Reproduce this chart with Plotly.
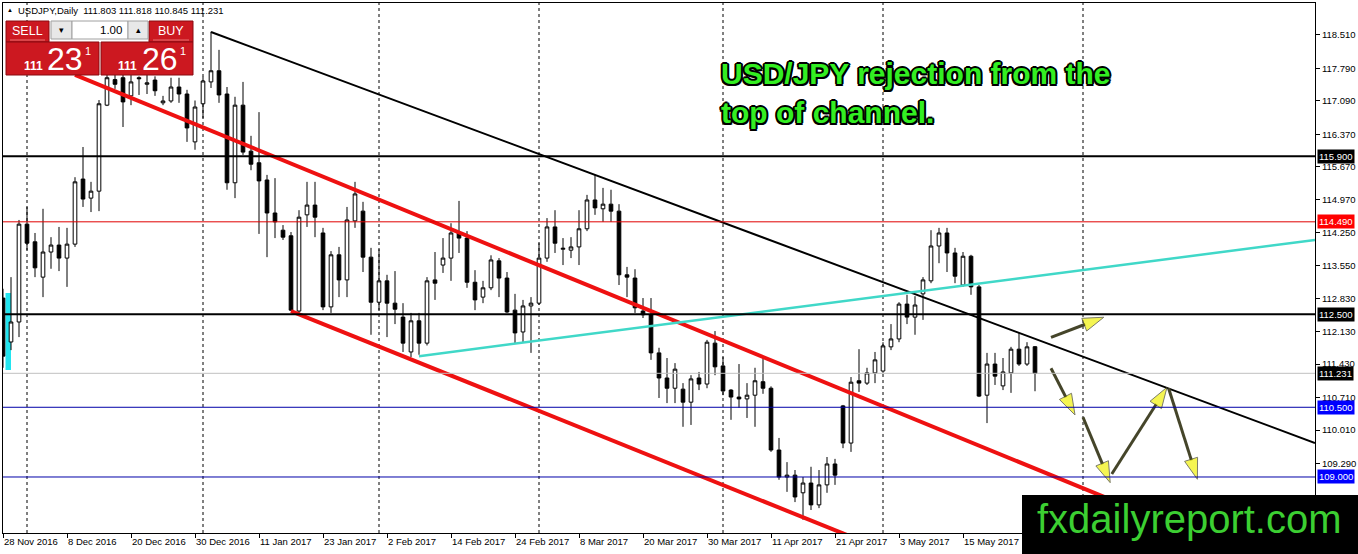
import plotly.graph_objects as go

# ---------------- data ----------------
bar_index = list(range(130))  # daily bars from 28 Nov 2016 to 26 May 2017

opens = [112.85, 111.905, 112.335, 114.44, 114.06, 113.30, 113.84, 113.99, 113.71, 114.01,
         115.41, 115.00, 115.15, 117.00, 117.55, 117.59, 117.20, 117.59, 117.45, 117.54,
         117.05, 117.09, 117.39, 117.24, 116.21, 117.03, 117.50, 117.74, 117.24, 115.33,
         117.00, 116.01, 115.76, 115.39, 114.68, 114.31, 114.19, 112.57, 114.64, 114.85,
         114.25, 112.66, 113.78, 113.24, 114.51, 114.72, 113.73, 112.76, 113.22, 112.74,
         112.44, 111.69, 112.36, 111.88, 113.24, 113.56, 113.71, 114.25, 114.14, 113.19,
         112.87, 113.07, 113.65, 113.28, 112.59, 112.12, 112.68, 112.74, 113.71, 114.38,
         113.90, 113.88, 113.95, 114.34, 114.96, 114.77, 114.87, 114.72, 113.35, 113.28,
         112.57, 112.49, 111.67, 111.13, 110.91, 110.89, 110.61, 111.13, 111.00, 111.88,
         111.39, 110.87, 110.72, 110.68, 110.76, 111.05, 110.91, 109.58, 109.00, 109.04,
         108.66, 108.87, 108.40, 108.83, 109.28, 110.53, 109.73, 111.07, 111.02, 111.24,
         111.28, 111.80, 111.97, 112.72, 112.44, 112.94, 113.22, 113.97, 114.25, 113.82,
         113.13, 113.75, 113.09, 110.76, 111.43, 110.96, 111.24, 111.75, 111.43, 111.803]
highs = [113.05, 113.30, 114.53, 114.81, 114.25, 114.77, 114.16, 114.38, 114.36, 115.45,
         116.10, 115.35, 117.11, 117.76, 117.70, 117.76, 117.80, 117.62, 117.65, 117.62,
         117.20, 117.59, 117.59, 117.33, 117.10, 117.61, 118.58, 118.19, 117.39, 117.18,
         117.50, 116.34, 116.85, 115.50, 115.43, 114.42, 114.27, 114.74, 115.35, 115.35,
         114.36, 113.86, 113.95, 114.81, 115.35, 114.92, 113.93, 113.90, 113.35, 113.43,
         112.74, 112.53, 112.53, 113.30, 113.84, 114.14, 114.46, 114.94, 114.29, 113.45,
         113.22, 113.77, 113.71, 113.41, 112.94, 112.81, 112.87, 114.03, 114.57, 114.74,
         114.14, 114.16, 114.74, 115.07, 115.50, 115.22, 115.18, 114.87, 113.52, 113.47,
         112.85, 112.85, 111.78, 111.56, 111.45, 111.02, 111.19, 111.26, 111.95, 112.14,
         111.58, 110.89, 111.43, 111.02, 111.35, 111.56, 110.95, 109.84, 109.32, 109.15,
         109.00, 109.22, 109.15, 109.43, 109.39, 110.55, 111.15, 111.75, 111.35, 111.69,
         111.90, 112.29, 112.76, 112.92, 112.89, 113.30, 114.31, 114.36, 114.36, 113.93,
         113.84, 113.78, 113.13, 111.67, 111.67, 111.56, 111.80, 112.10, 111.90, 111.818]
lows = [111.35, 111.73, 112.01, 113.88, 113.30, 112.87, 113.48, 113.43, 113.09, 113.95,
        114.81, 114.70, 114.72, 116.98, 117.35, 116.53, 117.00, 117.22, 117.24, 117.20,
        117.00, 117.05, 117.05, 116.21, 116.04, 116.72, 117.37, 117.05, 115.18, 115.00,
        115.93, 115.60, 114.23, 113.73, 114.14, 114.10, 112.57, 112.53, 114.38, 114.16,
        112.59, 112.53, 112.87, 112.87, 114.36, 113.41, 112.06, 112.59, 112.01, 112.29,
        111.69, 111.58, 111.63, 111.83, 112.81, 113.39, 113.22, 113.82, 113.07, 112.59,
        112.74, 113.02, 112.87, 112.53, 111.88, 111.90, 111.67, 112.70, 113.63, 113.82,
        113.56, 113.71, 113.56, 114.29, 114.64, 114.49, 114.49, 113.13, 112.87, 112.53,
        112.42, 111.52, 110.70, 110.59, 110.59, 110.08, 110.12, 110.87, 110.91, 111.19,
        110.76, 110.23, 110.49, 110.27, 110.08, 110.79, 109.54, 108.94, 108.68, 108.46,
        108.08, 108.29, 108.33, 108.66, 108.83, 109.62, 109.54, 110.83, 110.98, 111.02,
        111.24, 111.73, 111.90, 112.29, 112.06, 112.38, 113.17, 113.60, 113.41, 113.17,
        113.09, 112.92, 110.72, 110.16, 110.98, 110.87, 110.81, 111.39, 111.39, 110.845]
closes = [111.60, 112.335, 114.44, 114.03, 113.50, 113.84, 113.99, 113.71, 114.01, 115.35,
          114.98, 115.15, 117.03, 117.59, 117.45, 117.07, 117.50, 117.57, 117.48, 117.31,
          117.09, 117.39, 117.24, 116.51, 116.96, 117.52, 117.74, 117.22, 115.33, 117.00,
          115.99, 115.73, 115.37, 114.68, 114.49, 114.16, 112.59, 114.59, 114.85, 114.59,
          112.66, 113.78, 113.24, 114.53, 115.09, 113.73, 112.76, 113.22, 112.74, 112.61,
          111.88, 112.36, 111.88, 113.22, 113.17, 113.71, 114.25, 114.14, 113.19, 112.81,
          113.07, 113.67, 113.28, 112.55, 112.10, 112.68, 112.74, 113.71, 114.38, 114.03,
          113.92, 113.95, 114.34, 114.96, 114.79, 114.87, 114.72, 113.35, 113.30, 112.64,
          112.49, 111.67, 111.13, 110.91, 111.32, 110.61, 111.11, 111.00, 111.90, 111.37,
          110.85, 110.72, 110.68, 110.76, 111.07, 110.91, 109.58, 109.00, 109.04, 108.57,
          108.87, 108.40, 108.83, 109.28, 109.04, 109.73, 111.04, 111.02, 111.24, 111.52,
          111.82, 111.97, 112.72, 112.44, 112.70, 113.24, 113.97, 114.25, 113.82, 113.32,
          113.75, 113.09, 110.74, 111.43, 111.17, 111.26, 111.75, 111.43, 111.80, 111.231]

date_tick_index = [0, 8, 16, 24, 32, 40, 48, 56, 64, 72, 80, 88, 96, 104, 112, 120]
date_tick_labels = ["28 Nov 2016", "8 Dec 2016", "20 Dec 2016", "30 Dec 2016", "11 Jan 2017",
                    "23 Jan 2017", "2 Feb 2017", "14 Feb 2017", "24 Feb 2017", "8 Mar 2017",
                    "20 Mar 2017", "30 Mar 2017", "11 Apr 2017", "21 Apr 2017", "3 May 2017",
                    "15 May 2017"]

price_ticks = [118.51, 117.79, 117.09, 116.37, 115.67, 114.97, 114.25, 113.55,
               112.83, 112.13, 111.43, 110.71, 110.01, 109.29]

level_prices = [115.900, 114.490, 112.500, 111.231, 110.500, 109.000]
level_labels = ["115.900", "114.490", "112.500", "111.231", "110.500", "109.000"]

separator_index = [3, 25, 47, 67, 90, 110, 135]  # month separators

black_line_x = [26, 164]
black_line_y = [118.575, 109.73]
red_upper_x = [9, 150]
red_upper_y = [117.65, 107.70]
red_lower_x = [36, 110]
red_lower_y = [112.57, 107.44]
cyan_line_x = [52, 164]
cyan_line_y = [111.60, 114.10]

arrow_x_from = [131.0, 131.0, 135.0, 138.6, 145.7]
arrow_y_from = [112.006, 111.339, 110.285, 109.065, 110.909]
arrow_x_to = [137.6, 134.0, 138.4, 145.5, 149.3]
arrow_y_to = [112.437, 110.334, 108.878, 110.93, 108.951]

header_text = "USDJPY,Daily  111.803 111.818 110.845 111.231"
title_text = "USD/JPY rejection from the<br>top of channel."
watermark_text = "fxdailyreport.com"

# ---------------- layout helpers (pixel -> paper) ----------------
W, H = 1358, 554
PL, PR, PT, PB = 3, 1315, 3, 533


def fx(px):
    return (px - PL) / (PR - PL)


def fy(py):
    return (PB - py) / (PB - PT)


FONT = "Liberation Sans"

fig = go.Figure()

fig.add_trace(go.Candlestick(
    x=bar_index, open=opens, high=highs, low=lows, close=closes,
    increasing=dict(line=dict(color="black", width=1), fillcolor="white"),
    decreasing=dict(line=dict(color="black", width=1), fillcolor="black"),
    whiskerwidth=0, showlegend=False, hoverinfo="skip"))

for xs, ys, col, wd in [(red_upper_x, red_upper_y, "#ee1111", 4),
                        (red_lower_x, red_lower_y, "#ee1111", 4),
                        (black_line_x, black_line_y, "#000000", 2),
                        (cyan_line_x, cyan_line_y, "#40d8c8", 2.5)]:
    fig.add_trace(go.Scatter(x=xs, y=ys, mode="lines", line=dict(color=col, width=wd),
                             showlegend=False, hoverinfo="skip"))

for i in range(len(arrow_x_from)):
    fig.add_trace(go.Scatter(
        x=[arrow_x_from[i], arrow_x_to[i]], y=[arrow_y_from[i], arrow_y_to[i]],
        mode="lines+markers", line=dict(color="#45452a", width=3),
        marker=dict(symbol=["circle", "arrow"], size=[0, 22], color="#f2f20a",
                    angleref="previous", line=dict(color="#45452a", width=1)),
        showlegend=False, hoverinfo="skip"))

shapes = []
for s in separator_index:
    shapes.append(dict(type="line", xref="x", yref="paper", x0=s, x1=s, y0=0, y1=1,
                       line=dict(color="black", width=1, dash="3px,3px"), layer="below"))

level_line_colors = ["#000000", "#e00000", "#000000", "#c0c0c0", "#0000a8", "#0000a8"]
level_line_widths = [2, 1, 2, 1, 1, 1]
level_box_colors = ["#000000", "#ff0000", "#000000", "#000000", "#0000ff", "#0000ff"]
for lv, c, w in zip(level_prices, level_line_colors, level_line_widths):
    shapes.append(dict(type="line", xref="paper", yref="y", x0=0, x1=1, y0=lv, y1=lv,
                       line=dict(color=c, width=w), layer="above"))

# cyan marker block at left edge
shapes.append(dict(type="rect", xref="paper", yref="paper", x0=fx(5.5), x1=fx(11),
                   y0=fy(370), y1=fy(293), fillcolor="#22e5f0", line=dict(width=0),
                   layer="below"))

# one-click trading panel
red = "#cc1820"
for (x0, x1, y0, y1, fc, lc) in [
        (6, 49, 21, 42, red, "#8a0a10"),
        (149, 193, 21, 42, red, "#8a0a10"),
        (51, 72, 21, 39, "#e8e8e8", "#a0a0a0"),
        (72, 128, 21, 39, "#ffffff", "#a0a0a0"),
        (128, 148, 21, 39, "#e8e8e8", "#a0a0a0"),
        (6, 99, 42, 75, red, "#8a0a10"),
        (101, 193, 42, 75, red, "#8a0a10")]:
    shapes.append(dict(type="rect", xref="paper", yref="paper", x0=fx(x0), x1=fx(x1),
                       y0=fy(y1), y1=fy(y0), fillcolor=fc, line=dict(color=lc, width=1),
                       layer="above"))
for (x0, x1) in [(10, 45), (153, 189)]:
    shapes.append(dict(type="line", xref="paper", yref="paper", x0=fx(x0), x1=fx(x1),
                       y0=fy(40), y1=fy(40), line=dict(color="#e87070", width=1),
                       layer="above"))

# watermark box
shapes.append(dict(type="rect", xref="paper", yref="paper", x0=fx(1022), x1=fx(1362),
                   y0=fy(558), y1=fy(495), fillcolor="black", line=dict(width=0),
                   layer="above"))

annotations = []
for lv, lab, bc in zip(level_prices, level_labels, level_box_colors):
    annotations.append(dict(xref="paper", yref="y", x=1, y=lv, xanchor="left", xshift=2,
                            text=lab, showarrow=False, bgcolor=bc, borderpad=1,
                            font=dict(family=FONT, size=9.5, color="white")))


def txt(px, py, s, size, color="white", anchor="left", bold=False, family=FONT):
    annotations.append(dict(xref="paper", yref="paper", x=fx(px), y=fy(py), xanchor=anchor,
                            yanchor="middle", text=s, showarrow=False,
                            font=dict(family=family, size=size, color=color,
                                      weight="bold" if bold else "normal")))


txt(5, 10, "▲", 6, color="black")
txt(16, 11, header_text, 9.5, color="black")
txt(27.5, 31, "SELL", 12.5, anchor="center")
txt(171, 31, "BUY", 12.5, anchor="center")
txt(61.5, 30, "▾", 9, color="black", anchor="center")
txt(138, 30, "▴", 9, color="black", anchor="center")
txt(124, 30, "1.00", 11.5, color="black", anchor="right")
txt(22, 66, "111", 12, bold=True)
txt(45, 59, "23", 32)
txt(83, 51, "1", 11)
txt(116, 66, "111", 12, bold=True)
txt(140, 59, "26", 32)
txt(178, 51, "1", 11)

outline = ("2px 0 0 #000, -2px 0 0 #000, 0 2px 0 #000, 0 -2px 0 #000, "
           "1.5px 1.5px 0 #000, -1.5px -1.5px 0 #000, 1.5px -1.5px 0 #000, -1.5px 1.5px 0 #000")
annotations.append(dict(xref="paper", yref="paper", x=fx(719), y=fy(55), xanchor="left",
                        yanchor="top", align="left", text=title_text, showarrow=False,
                        font=dict(family=FONT, size=30, color="#33ee22", weight="bold",
                                  shadow=outline)))
annotations.append(dict(xref="paper", yref="paper", x=fx(1035), y=fy(519), xanchor="left",
                        yanchor="middle", text=watermark_text, showarrow=False,
                        font=dict(family=FONT, size=40, color="#3ccf32")))

fig.update_layout(
    width=W, height=H,
    margin=dict(l=PL, r=W - PR, t=PT, b=H - PB, pad=0, autoexpand=False),
    paper_bgcolor="white", plot_bgcolor="white",
    showlegend=False, boxgap=0.35,
    shapes=shapes, annotations=annotations,
    xaxis=dict(range=[0, 164], rangeslider=dict(visible=False), showgrid=False,
               zeroline=False, showline=True, linecolor="black", linewidth=1, mirror=True,
               tickmode="array", tickvals=date_tick_index, ticktext=date_tick_labels,
               ticks="outside", ticklen=4, tickcolor="black", ticklabelposition="outside right",
               tickangle=0, automargin=False,
               tickfont=dict(family=FONT, size=9.5, color="black")),
    yaxis=dict(range=[107.795, 119.198], side="right", showgrid=False, zeroline=False,
               showline=True, linecolor="black", linewidth=1, mirror=True,
               tickmode="array", tickvals=price_ticks, automargin=False,
               ticktext=["%.3f" % v for v in price_ticks],
               ticks="outside", ticklen=4, tickcolor="black",
               tickfont=dict(family=FONT, size=9.5, color="black")),
)

fig.write_html("out.html", config={"displayModeBar": False},
               post_script="document.body.style.margin='0px';document.body.style.overflow='hidden';")
